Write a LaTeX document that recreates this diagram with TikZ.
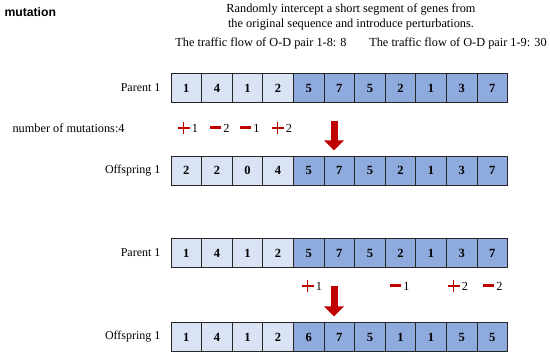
\documentclass[tikz,border=0pt]{standalone}
\usepackage{fontspec}
\setmainfont{Liberation Serif}
\newfontfamily\headfont{Liberation Sans}
\usetikzlibrary{arrows.meta}

\definecolor{lite}{HTML}{DAE3F3}
\definecolor{dark}{HTML}{8FAADC}
\definecolor{mred}{HTML}{C00000}
\newcommand{\plusmark}[1]{\mbox{\color{mred}\rule[0.33em]{0.95em}{0.09em}\kern-0.52em\rule[-0.1em]{0.09em}{0.95em}\kern0.43em}\,#1}
\newcommand{\minusmark}[1]{{\color{mred}\rule[0.22em]{0.9em}{0.3em}}\,#1}

\begin{document}
\begin{tikzpicture}[x=1pt, y=-1pt,
  cell/.style={draw=black!85, line width=0.8pt, minimum width=30.6pt, minimum height=29pt,
    inner sep=0pt, font=\fontsize{12.5}{14}\selectfont\bfseries},
  lbl/.style={anchor=east, font=\fontsize{12}{14}\selectfont},
  txt/.style={font=\fontsize{12.3}{14.5}\selectfont},
  bigarrow/.style={mred, line width=7pt, -{Triangle[length=10pt, width=19pt]}}]
  \useasboundingbox (0,0) rectangle (550,355);

  % 見出し
  \node[anchor=west, font=\headfont\bfseries\fontsize{12.2}{14}\selectfont] (title) at (1,12) {mutation};
  \node[txt, align=center] (desc) at (351,17) {Randomly intercept a short segment of genes from\\the original sequence and introduce perturbations.};
  \node[txt] (flow8) at (261,43) {The traffic flow of O-D pair 1-8: 8};
  \node[txt] (flow9) at (458,43) {The traffic flow of O-D pair 1-9: 30};

  % 遺伝子列
  \foreach \n/\y/\vals in {pa/88/{1,4,1,2,5,7,5,2,1,3,7}, oa/170.5/{2,2,0,4,5,7,5,2,1,3,7},
                           pb/253/{1,4,1,2,5,7,5,2,1,3,7}, ob/337/{1,4,1,2,6,7,5,1,1,5,5}} {
    \foreach \v [count=\i] in \vals {
      \ifnum\i<5 \def\cellcol{lite}\else\def\cellcol{dark}\fi
      \node[cell, fill=\cellcol] (\n-\i) at ({171+(\i-0.5)*30.6},\y) {\v};
    }
  }
  \node[lbl] (pa-lbl) at (164,88) {Parent 1};
  \node[lbl] (oa-lbl) at (164,170.5) {Offspring 1};
  \node[lbl] (pb-lbl) at (164,253) {Parent 1};
  \node[lbl] (ob-lbl) at (164,337) {Offspring 1};

  % 変異
  \node[txt, anchor=west] (count) at (9,128) {number of mutations:4};
  \node[txt] (ma1) at (188,128) {\plusmark{1}};
  \node[txt] (ma2) at (220,128) {\minusmark{2}};
  \node[txt] (ma3) at (250,128) {\minusmark{1}};
  \node[txt] (ma4) at (282,128) {\plusmark{2}};

  \node[txt] (mb1) at (312,286) {\plusmark{1}};
  \node[txt] (mb2) at (400,286) {\minusmark{1}};
  \node[txt] (mb3) at (458,286) {\plusmark{2}};
  \node[txt] (mb4) at (493,286) {\minusmark{2}};

  % 矢印
  \coordinate (aa-top) at (334,121);
  \coordinate (aa-end) at (334,150.5);
  \coordinate (ab-top) at (334,286);
  \coordinate (ab-end) at (334,316.5);
  \draw[bigarrow] (aa-top) -- (aa-end);
  \draw[bigarrow] (ab-top) -- (ab-end);
\end{tikzpicture}
\end{document}
